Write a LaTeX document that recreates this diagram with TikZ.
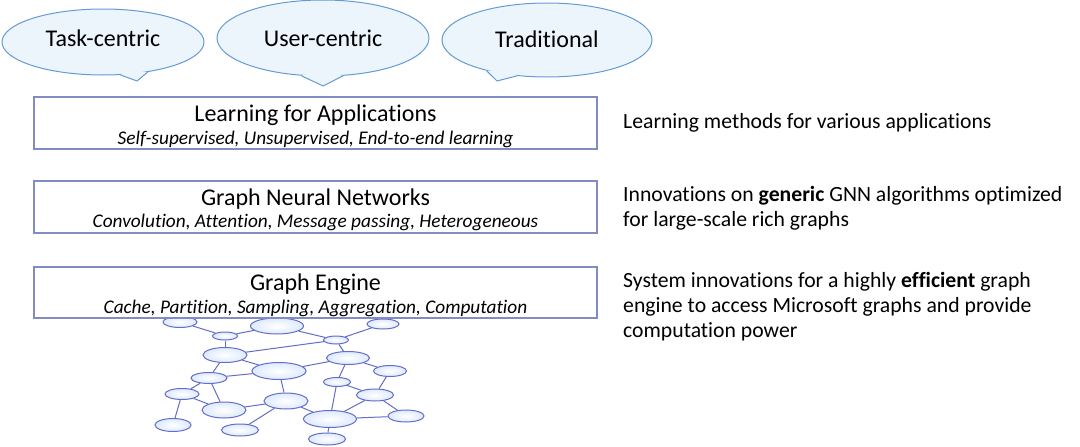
\documentclass[tikz,border=0pt]{standalone}
\usepackage{fontspec}
\setmainfont{Carlito}[Ligatures=NoCommon,RawFeature={-liga;-dlig}]
\usetikzlibrary{shapes.geometric,calc}
\definecolor{bubline}{RGB}{100,155,215}
\definecolor{bubfill}{RGB}{236,244,252}
\definecolor{boxline}{RGB}{130,140,195}
\definecolor{gline}{RGB}{100,110,200}
\definecolor{gfill}{RGB}{222,234,255}
\begin{document}
\begin{tikzpicture}[x=1pt,y=-1pt,
 bubble/.style={ellipse, draw=bubline, fill=bubfill, line width=1pt, inner sep=0pt},
 tailfill/.style={fill=bubfill},
 tailline/.style={draw=bubline, line width=1pt, line join=miter},
 bubtext/.style={anchor=base, inner sep=0pt, font=\fontsize{24}{28}\selectfont},
 layerbox/.style={rectangle, draw=boxline, fill=white, line width=1.3pt, minimum width=563pt, inner sep=0pt},
 title/.style={anchor=base, inner sep=0pt, font=\fontsize{24}{28}\selectfont},
 sub/.style={anchor=base, inner sep=0pt, font=\fontsize{19.3}{23}\selectfont\itshape},
 desc/.style={anchor=base west, inner sep=0pt, font=\fontsize{21.7}{25}\selectfont},
 gnode/.style={ellipse, draw=gline, line width=1pt, inner color=white, outer color=gfill, inner sep=0pt},
 gedge/.style={draw=gline, line width=1pt}]
\useasboundingbox (0,0) rectangle (1080,447);
\fill[white] (0,0) rectangle (1080,447);

% ---------- graph ----------
\node[gnode, minimum width=34, minimum height=11] (n1) at (180,322) {};
\node[gnode, minimum width=25, minimum height=8] (n2) at (225,336) {};
\node[gnode, minimum width=53, minimum height=16] (n3) at (277,326) {};
\node[gnode, minimum width=32, minimum height=10] (n4) at (383,324) {};
\node[gnode, minimum width=25, minimum height=8] (n5) at (336,340) {};
\node[gnode, minimum width=44, minimum height=15] (n6) at (225,355) {};
\node[gnode, minimum width=43, minimum height=13] (n7) at (348,358) {};
\node[gnode, minimum width=54, minimum height=17] (n8) at (279,371) {};
\node[gnode, minimum width=33, minimum height=11] (n9) at (390,371) {};
\node[gnode, minimum width=36, minimum height=11] (n10) at (209,378) {};
\node[gnode, minimum width=27, minimum height=9] (n11) at (337,382) {};
\node[gnode, minimum width=34, minimum height=11] (n12) at (182,394) {};
\node[gnode, minimum width=37, minimum height=12] (n13) at (375,395) {};
\node[gnode, minimum width=44, minimum height=16] (n14) at (286,401) {};
\node[gnode, minimum width=44, minimum height=16] (n15) at (224,410) {};
\node[gnode, minimum width=53, minimum height=17] (n16) at (330,419) {};
\node[gnode, minimum width=36, minimum height=12] (n17) at (406,416) {};
\node[gnode, minimum width=36, minimum height=13] (n18) at (173,425) {};
\node[gnode, minimum width=37, minimum height=12] (n19) at (240,430) {};
\node[gnode, minimum width=37, minimum height=12] (n20) at (327,439) {};
\foreach \a/\b in {n1/n2,n2/n3,n2/n6,n3/n5,n6/n5,n5/n4,n5/n7,n6/n8,n8/n7,n7/n9,n6/n10,n10/n8,n7/n11,n11/n13,n9/n13,n10/n12,n10/n15,n12/n15,n15/n14,n8/n14,n14/n16,n11/n16,n13/n16,n16/n17,n13/n17,n16/n20,n12/n18,n19/n14}
  \draw[gedge] (\a) -- (\b);

% ---------- layer boxes ----------
\node[layerbox, minimum height=52] (L1) at (315.5,123) {};
\node[title] (L1t) at (315.5,121) {Learning for Applications};
\node[sub] (L1s) at (315.5,144) {Self-supervised, Unsupervised, End-to-end learning};

\node[layerbox, minimum height=52] (L2) at (315.5,207) {};
\node[title] (L2t) at (315.5,205) {Graph Neural Networks};
\node[sub] (L2s) at (315.5,227) {Convolution, Attention, Message passing, Heterogeneous};

\node[layerbox, minimum height=51] (L3) at (315.5,292.5) {};
\node[title] (L3t) at (315.5,290) {Graph Engine};
\node[sub] (L3s) at (315.5,313) {Cache, Partition, Sampling, Aggregation, Computation};

% ---------- speech bubbles ----------
\node[bubble, minimum width=202, minimum height=66] (b1) at (103,42) {};
\coordinate (t1) at (137,81);
\fill[tailfill] (b1.-62) -- (t1) -- (b1.-34) -- ($(b1.center)!0.85!(b1.-48)$) -- cycle;
\draw[tailline] (b1.-62) -- (t1) -- (b1.-34);
\node[bubtext] (b1t) at (103,46) {Task-centric};

\node[bubble, minimum width=212, minimum height=76] (b2) at (323,38) {};
\coordinate (t2) at (323,86);
\fill[tailfill] (b2.-120) -- (t2) -- (b2.-62) -- ($(b2.center)!0.85!(b2.-90)$) -- cycle;
\draw[tailline] (b2.-120) -- (t2) -- (b2.-62);
\node[bubtext] (b2t) at (323,46) {User-centric};

\node[bubble, minimum width=210, minimum height=74] (b3) at (547,40) {};
\coordinate (t3) at (497,81);
\fill[tailfill] (b3.-153) -- (t3) -- (b3.-130) -- ($(b3.center)!0.85!(b3.-141)$) -- cycle;
\draw[tailline] (b3.-153) -- (t3) -- (b3.-130);
\node[bubtext] (b3t) at (547,47) {Traditional};

% ---------- descriptions ----------
\node[desc] (d1) at (623,128) {Learning methods for various applications};
\node[desc] (d2a) at (623,201) {Innovations on \textbf{generic} GNN algorithms optimized};
\node[desc] (d2b) at (623,226) {for large-scale rich graphs};
\node[desc] (d3a) at (623,287) {System innovations for a highly \textbf{efficient} graph};
\node[desc] (d3b) at (623,312) {engine to access Microsoft graphs and provide};
\node[desc] (d3c) at (623,337) {computation power};
\end{tikzpicture}
\end{document}
